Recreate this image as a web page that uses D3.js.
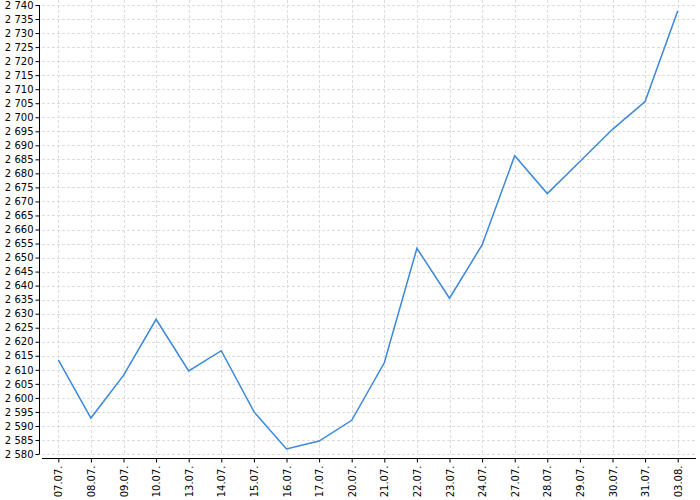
<!DOCTYPE html>
<html>
<head>
<meta charset="utf-8">
<script src="https://cdn.jsdelivr.net/npm/d3@7"></script>
<style>
  body { margin: 0; background: #fff; }
  svg { display: block; font-family: "DejaVu Sans", sans-serif; }
</style>
</head>
<body>
<svg id="chart"></svg>
<script>
// Datos
var dates = ['07.07.', '08.07.', '09.07.', '10.07.', '13.07.', '14.07.', '15.07.',
    '16.07.', '17.07.', '20.07.', '21.07.', '22.07.', '23.07.', '24.07.',
    '27.07.', '28.07.', '29.07.', '30.07.', '31.07.', '03.08.'];
var values = [2613.5, 2592.8, 2608.0, 2628.0, 2609.6, 2616.8, 2595.1,
    2581.8, 2584.6, 2592.0, 2612.5, 2653.3, 2635.5, 2654.5,
    2686.3, 2672.8, 2684.2, 2695.7, 2705.6, 2737.9];
var yTicks = d3.range(2580, 2741, 5);

var w = 700,
    h = 500;

var svg = d3.select('#chart')
    .attr('width', w)
    .attr('height', h);

var locale = d3.formatLocale({ decimal: ',', thousands: '\u00a0', grouping: [3], currency: ['', ''] });
var fmt = locale.format(',.0f');

// Escalas
var xScale = d3.scalePoint()
    .domain(dates)
    .range([42, 694])
    .padding(0.5);
var yScale = d3.scaleLinear()
    .domain([2580, 2740])
    .range([454, 5]);

// Rejilla
svg.append('g')
    .selectAll('line')
    .data(yTicks)
    .enter()
    .append('line')
    .attr('x1', 42)
    .attr('x2', 696)
    .attr('y1', function(d) { return Math.round(yScale(d)) + 0.5; })
    .attr('y2', function(d) { return Math.round(yScale(d)) + 0.5; })
    .attr('stroke', '#dcdcdc')
    .attr('stroke-dasharray', '3,2');

svg.append('g')
    .selectAll('line')
    .data(dates)
    .enter()
    .append('line')
    .attr('x1', function(d) { return Math.round(xScale(d)) + 0.5; })
    .attr('x2', function(d) { return Math.round(xScale(d)) + 0.5; })
    .attr('y1', 0)
    .attr('y2', 454)
    .attr('stroke', '#dcdcdc')
    .attr('stroke-dasharray', '3,2');

// Ejes
var yAxis = d3.axisLeft(yScale)
    .tickValues(yTicks)
    .tickFormat(fmt)
    .tickSize(4)
    .tickPadding(2);
var gy = svg.append('g')
    .attr('transform', 'translate(39.5,0)')
    .call(yAxis);
gy.select('.domain').attr('d', 'M0,' + yScale(2740) + 'V' + yScale(2580));
gy.selectAll('text').attr('font-size', 10).attr('fill', '#000');

var xAxis = d3.axisBottom(xScale)
    .tickSize(4)
    .tickSizeOuter(0);
var gx = svg.append('g')
    .attr('transform', 'translate(0,458.5)')
    .call(xAxis);
gx.select('.domain').attr('d', 'M42,0H696');
gx.selectAll('text')
    .attr('font-size', 10)
    .attr('fill', '#000')
    .attr('transform', 'rotate(-90)')
    .attr('text-anchor', 'end')
    .attr('x', -7)
    .attr('y', 0)
    .attr('dy', '0.35em');
svg.selectAll('.domain, .tick line').attr('stroke', '#000');
svg.selectAll('g').attr('font-family', null);

// Linea
var line = d3.line()
    .x(function(d, i) { return xScale(dates[i]); })
    .y(function(d) { return yScale(d); });

svg.append('path')
    .datum(values)
    .attr('d', line)
    .attr('fill', 'none')
    .attr('stroke', '#3a88da')
    .attr('stroke-width', 1.5);
</script>
</body>
</html>
